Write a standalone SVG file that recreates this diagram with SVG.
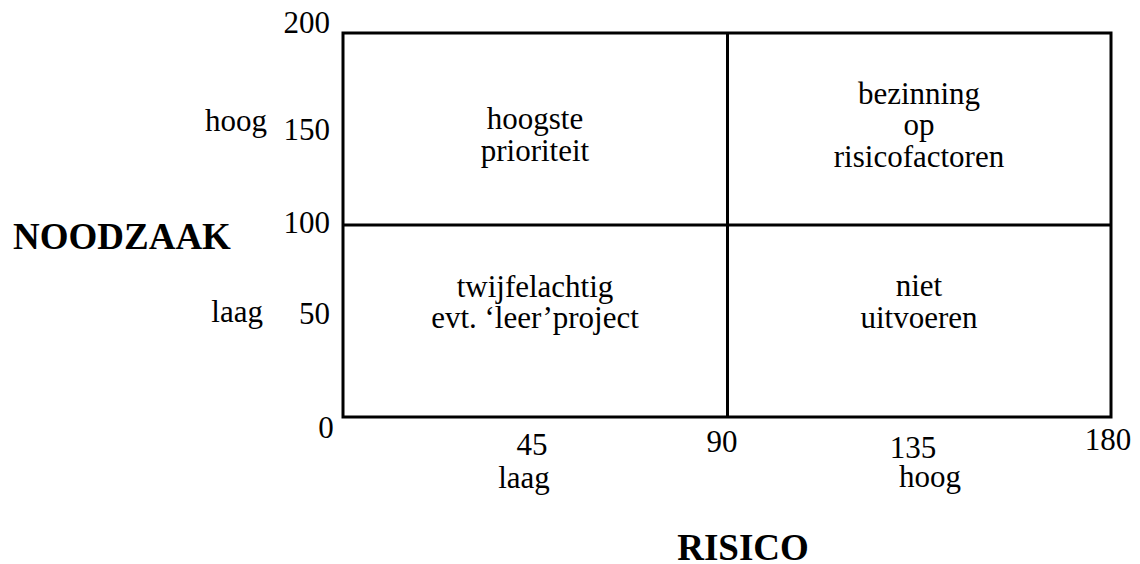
<svg xmlns="http://www.w3.org/2000/svg" width="1140" height="564" viewBox="0 0 1140 564" font-family="'Liberation Serif', 'DejaVu Serif', serif">
  <style>
    text { font-family: "Liberation Serif", "DejaVu Serif", serif; font-size: 31px; fill: #000; }
    .title { font-weight: bold; font-size: 37px; }
    .mid { text-anchor: middle; }
    .end { text-anchor: end; }
    .grid { fill: none; stroke: #000; stroke-width: 3; }
  </style>
  <rect width="1140" height="564" fill="#fff"/>

  <!-- matrix frame and dividing lines -->
  <g id="connectors">
    <rect class="grid" x="343" y="33" width="768" height="384"/>
    <line class="grid" x1="727.5" y1="33" x2="727.5" y2="417"/>
    <line class="grid" x1="343" y1="225" x2="1111" y2="225"/>
  </g>

  <!-- quadrants -->
  <g id="q-hoogste-prioriteit">
    <text class="mid" x="535" y="129">hoogste</text>
    <text class="mid" x="535" y="161">prioriteit</text>
  </g>
  <g id="q-bezinning">
    <text class="mid" x="919" y="104">bezinning</text>
    <text class="mid" x="919" y="135">op</text>
    <text class="mid" x="919" y="167">risicofactoren</text>
  </g>
  <g id="q-twijfelachtig">
    <text class="mid" x="535" y="297">twijfelachtig</text>
    <text class="mid" x="535" y="328">evt. ‘leer’project</text>
  </g>
  <g id="q-niet-uitvoeren">
    <text class="mid" x="919" y="296">niet</text>
    <text class="mid" x="919" y="328">uitvoeren</text>
  </g>

  <!-- vertical axis -->
  <g id="axis-noodzaak">
    <text class="end" x="330" y="33">200</text>
    <text class="end" x="330" y="140">150</text>
    <text class="end" x="330" y="233">100</text>
    <text class="end" x="330" y="324">50</text>
    <text class="end" x="267" y="131">hoog</text>
    <text class="end" x="263" y="322">laag</text>
    <text class="title" x="13" y="249">NOODZAAK</text>
  </g>

  <!-- horizontal axis -->
  <g id="axis-risico">
    <text class="mid" x="326" y="438">0</text>
    <text class="mid" x="532" y="455">45</text>
    <text class="mid" x="722" y="452">90</text>
    <text class="mid" x="913" y="458">135</text>
    <text class="mid" x="1108" y="450">180</text>
    <text class="mid" x="524" y="488">laag</text>
    <text class="mid" x="930" y="487">hoog</text>
    <text class="title mid" x="743" y="560">RISICO</text>
  </g>
</svg>
